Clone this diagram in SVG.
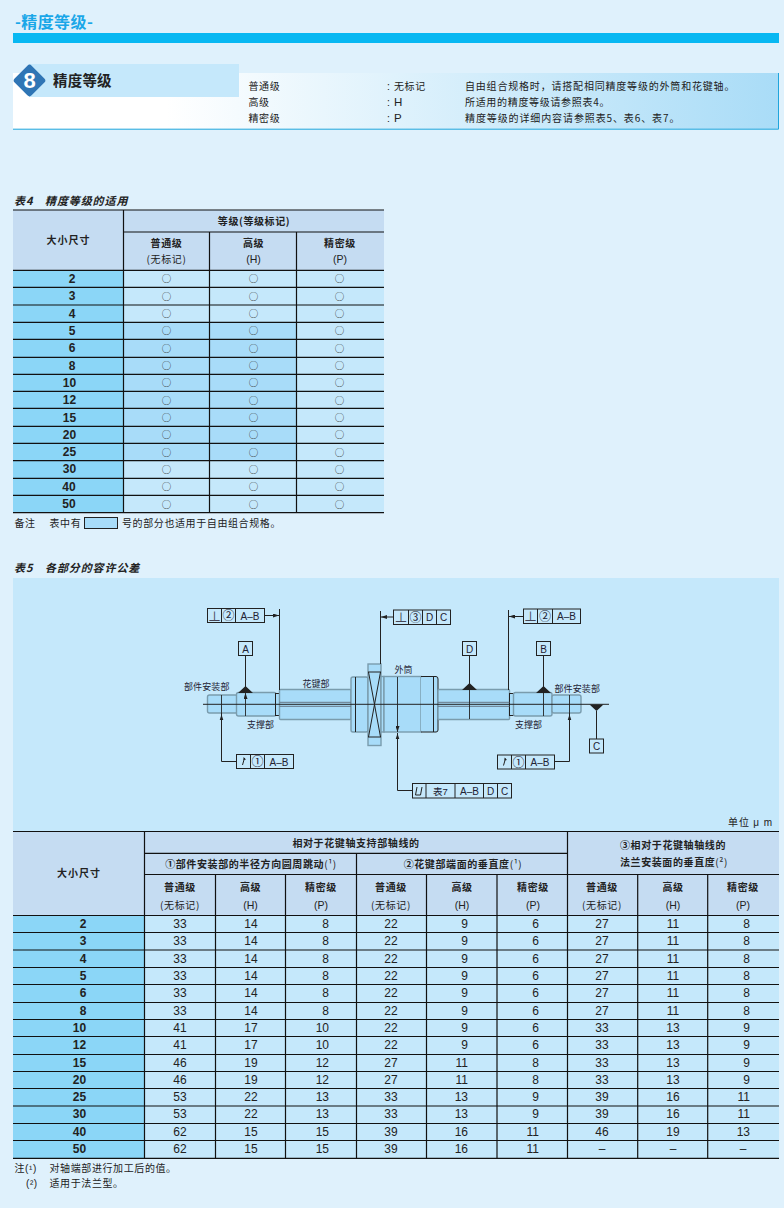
<svg xmlns="http://www.w3.org/2000/svg" width="784" height="1208" viewBox="0 0 784 1208">
<style>
text{font-family:"Liberation Sans","Noto Sans CJK SC",sans-serif;fill:#222;font-size:10.5px}
.c{font-family:"Noto Sans CJK SC",sans-serif;font-size:10px;letter-spacing:.6px}
.b{font-weight:700}
.m{text-anchor:middle}
.e{text-anchor:end}
.h{font-family:"Noto Sans CJK SC",sans-serif;font-weight:700;font-style:italic;font-size:11px;letter-spacing:.9px}
.n{font-size:12px}
.o{font-family:"Noto Sans CJK SC",sans-serif;font-size:9.5px;fill:#333;text-anchor:middle}
.d{font-family:"Noto Sans CJK SC",sans-serif;font-size:9px;fill:#223}
.g{font-size:10px;fill:#223;text-anchor:middle}
.p{font-size:13px;fill:#445;text-anchor:middle}
.q{font-family:"Noto Sans CJK SC",sans-serif;font-size:12px;fill:#223;text-anchor:middle}
.k{fill:none;stroke:#222;stroke-width:1}
.t{fill:none;stroke:#111;stroke-width:1.2}
.hd{fill:#c5dcf2}.sz{fill:#8bd6f7}.lt{fill:#c5e8fb}.dk{fill:#a8dcf9}
.s{fill:#a8dcf9;stroke:#7a9cad;stroke-width:1.4}
.bx{fill:none;stroke:#222;stroke-width:1}
.tr{fill:#222;stroke:none}
.ar{fill:none;stroke:#222;stroke-width:.9;marker-start:url(#ah);marker-end:url(#ah)}
</style>
<defs>
<linearGradient id="pg" x1="0" x2="1" y1="0" y2="0"><stop offset=".2" stop-color="#fff"/><stop offset="1" stop-color="#a9dcf7"/></linearGradient>
<marker id="ah" markerWidth="6" markerHeight="4" refX="6" refY="2" orient="auto-start-reverse" markerUnits="userSpaceOnUse"><path d="M0 0L6 2L0 4z" fill="#222"/></marker>
</defs>
<rect width="784" height="1208" fill="#dff1fc"/>
<g id="title">
<text x="15" y="28" style="font-family:'Noto Sans CJK SC',sans-serif;font-size:16px;font-weight:700;fill:#1aa7e8;letter-spacing:.4px">-精度等级-</text>
<rect x="13" y="33" width="766" height="10" fill="#08b8f2"/>
</g>
<g id="section-header">
<rect x="13" y="73" width="766" height="56" fill="url(#pg)"/>
<path d="M13 129.2H778.5V73" fill="none" stroke="#1fa5dc" stroke-width="1"/>
<rect x="29" y="64" width="210" height="33" fill="#c5e8fb"/>
<rect x="17.5" y="68.5" width="24" height="24" rx="3" transform="rotate(45 29.5 80.5)" fill="#2f75b5"/>
<text x="29.5" y="88" class="m b" style="font-size:22px;fill:#fff">8</text>
<text x="53" y="86" style="font-family:'Noto Sans CJK SC',sans-serif;font-size:14.5px;font-weight:700;letter-spacing:.2px">精度等级</text>
<text x="248.5" y="90" class="c">普通级</text><text x="248.5" y="106" class="c">高级</text><text x="248.5" y="122" class="c">精密级</text>
<text x="387" y="90">:</text><text x="387" y="106">:</text><text x="387" y="122">:</text>
<text x="394" y="90" class="c">无标记</text><text x="394" y="106" style="font-size:11.5px">H</text><text x="394" y="122" style="font-size:11.5px">P</text>
<text x="465" y="90" class="c" textLength="270">自由组合规格时&#xFF0C;请搭配相同精度等级的外筒和花键轴。</text>
<text x="465" y="106" class="c" textLength="145">所适用的精度等级请参照表4。</text>
<text x="465" y="122" class="c" textLength="215">精度等级的详细内容请参照表5、表6、表7。</text>
</g>
<g id="table4">
<text x="14" y="205" class="h">表4</text><text x="45" y="205" class="h">精度等级的适用</text>
<rect x="13" y="210" width="371" height="60" class="hd"/>
<rect x="13" y="270" width="110.500" height="243" class="sz"/>
<rect x="123.500" y="270" width="260.500" height="243" class="lt"/>
<rect x="123.500" y="322.300" width="173" height="138.400" class="dk"/>
<path class="t" d="M13 210H384M123.500 232H384M13 270.300H384M13 287.300H384M13 305H384M13 322.300H384M13 339.300H384M13 357.300H384M13 374.300H384M13 391.300H384M13 408.300H384M13 426.300H384M13 443.300H384M13 460.700H384M13 478.300H384M13 495.300H384M13 512.700H384M123.500 210V512.700M209.500 232V512.700M296.500 232V512.700"/>
<text x="254" y="225" class="c b m">等级(等级标记)</text>
<text x="68.500" y="244" class="c b m" style="letter-spacing:1px">大小尺寸</text>
<text x="166.500" y="247" class="c b m">普通级</text><text x="166.500" y="263" class="c m">(无标记)</text>
<text x="253.500" y="247" class="c b m">高级</text><text x="253.500" y="263" class="m">(H)</text>
<text x="340" y="247" class="c b m">精密级</text><text x="340" y="263" class="m">(P)</text>
<g class="n b m"><text x="72" y="283" class="n b m">2</text><text x="72" y="300" class="n b m">3</text><text x="72" y="318" class="n b m">4</text><text x="72" y="335" class="n b m">5</text><text x="72" y="352" class="n b m">6</text><text x="72" y="370" class="n b m">8</text><text x="69.500" y="387" class="n b m">10</text><text x="69.500" y="404" class="n b m">12</text><text x="69.500" y="422" class="n b m">15</text><text x="69.500" y="439" class="n b m">20</text><text x="69.500" y="456" class="n b m">25</text><text x="69.500" y="473" class="n b m">30</text><text x="69" y="491" class="n b m">40</text><text x="69" y="508" class="n b m">50</text></g>
<text x="166.500" y="282" class="o">○</text><text x="253.500" y="282" class="o">○</text><text x="339.500" y="282" class="o">○</text>
<text x="166.500" y="299.500" class="o">○</text><text x="253.500" y="299.500" class="o">○</text><text x="339.500" y="299.500" class="o">○</text>
<text x="166.500" y="317" class="o">○</text><text x="253.500" y="317" class="o">○</text><text x="339.500" y="317" class="o">○</text>
<text x="166.500" y="334" class="o">○</text><text x="253.500" y="334" class="o">○</text><text x="339.500" y="334" class="o">○</text>
<text x="166.500" y="351.500" class="o">○</text><text x="253.500" y="351.500" class="o">○</text><text x="339.500" y="351.500" class="o">○</text>
<text x="166.500" y="369" class="o">○</text><text x="253.500" y="369" class="o">○</text><text x="339.500" y="369" class="o">○</text>
<text x="166.500" y="386" class="o">○</text><text x="253.500" y="386" class="o">○</text><text x="339.500" y="386" class="o">○</text>
<text x="166.500" y="403.500" class="o">○</text><text x="253.500" y="403.500" class="o">○</text><text x="339.500" y="403.500" class="o">○</text>
<text x="166.500" y="421" class="o">○</text><text x="253.500" y="421" class="o">○</text><text x="339.500" y="421" class="o">○</text>
<text x="166.500" y="438" class="o">○</text><text x="253.500" y="438" class="o">○</text><text x="339.500" y="438" class="o">○</text>
<text x="166.500" y="455.500" class="o">○</text><text x="253.500" y="455.500" class="o">○</text><text x="339.500" y="455.500" class="o">○</text>
<text x="166.500" y="473" class="o">○</text><text x="253.500" y="473" class="o">○</text><text x="339.500" y="473" class="o">○</text>
<text x="166.500" y="490" class="o">○</text><text x="253.500" y="490" class="o">○</text><text x="339.500" y="490" class="o">○</text>
<text x="166.500" y="507.500" class="o">○</text><text x="253.500" y="507.500" class="o">○</text><text x="339.500" y="507.500" class="o">○</text>
<text x="14.500" y="527" class="c">备注</text><text x="49.500" y="527" class="c">表中有</text>
<rect x="84.500" y="517.500" width="33" height="11" class="dk" stroke="#222"/>
<text x="122" y="527" class="c">号的部分也适用于自由组合规格。</text>
</g>
<text x="14" y="572" class="h">表5</text><text x="45" y="572" class="h">各部分的容许公差</text>
<rect x="13" y="578" width="766" height="253" class="lt"/>
<g id="shaft">
<rect x="207.500" y="695" width="30" height="18" rx="2" class="s"/>
<rect x="236.500" y="692.500" width="39.500" height="23.500" rx="2" class="s"/>
<rect x="275.500" y="693.500" width="4" height="22" fill="#a8dcf9" stroke="#222"/>
<rect x="279.500" y="689.500" width="71.500" height="30" rx="1" class="s"/>
<rect x="351" y="677" width="17" height="55" rx="2" class="s"/>
<rect x="368" y="664" width="13" height="81.500" class="s"/>
<rect x="381" y="676.500" width="3" height="55.500" class="s"/>
<rect x="384" y="676.500" width="37" height="55.500" class="s"/>
<rect x="421" y="676.500" width="17" height="55.500" rx="2" fill="#a8dcf9"/>
<path d="M421 676.500H436Q438 676.500 438 679V730Q438 732 436 732H421" fill="none" stroke="#222"/>
<rect x="438" y="689.500" width="71.500" height="30" rx="1" class="s"/>
<rect x="509.500" y="693.500" width="4" height="22" fill="#a8dcf9" stroke="#222"/>
<rect x="513.500" y="692.500" width="38.500" height="23.500" rx="2" class="s"/>
<rect x="552" y="695" width="29" height="18" rx="2" class="s"/>
<path class="k" d="M355.500 677V732M433.500 677V732M368 672H381M368 737H381M368.500 672L380.500 737M380.500 672L368.500 737"/>
<path d="M279.500 702.300H351M279.500 706.300H351M438 702.300H509.500M438 706.300H509.500" stroke="#678" stroke-width="1" fill="none"/>
<path d="M203 704.300H609" stroke="#222" stroke-width="1"/>
<path class="tr" d="M238 693L245.500 686L253 693zM462 690L469.500 683L477 690zM536 693L543.500 686L551 693zM589.500 704.500H603.500L596.500 711z"/>
<text x="184" y="690" class="d" style="letter-spacing:.1px">部件安装部</text>
<text x="302.500" y="687" class="d">花键部</text>
<text x="247" y="728" class="d">支撑部</text>
<text x="394.500" y="673" class="d">外筒</text>
<text x="554.500" y="692" class="d" style="letter-spacing:.1px">部件安装部</text>
<text x="515" y="728" class="d">支撑部</text>
</g>
<g id="connectors">
<path class="k" d="M279.500 609V690M380.500 611V664M508.500 610V690M596.500 711V739M221.500 713V761.500H236.500M569.500 713V761.500H554.500M397.500 733V790.500H412.500"/>
<path class="k" stroke="#445" d="M245.500 655.500V688M469.500 655.500V685M543.500 655.500V688"/>
<path class="k" marker-end="url(#ah)" d="M264.500 615.500H279"/>
<path class="k" marker-end="url(#ah)" d="M393.500 617H381"/>
<path class="k" marker-end="url(#ah)" d="M523.500 616.500H509"/>
<path class="ar" d="M245.500 693V716M469.500 690V719M543.500 693V716M221.500 695V713M569.500 695V713M397.500 677V732"/>
<path class="tr" d="M221.500 714.500L223.300 720H219.700zM569.500 714.500L571.300 720H567.700zM397.500 733.500L399.300 739H395.700z"/>
</g>
<g id="fcf-perp-left"><rect x="207.500" y="608.500" width="57" height="14" class="bx"/><path class="k" d="M221.500 608.500V622.500M235.500 608.500V622.500"/><text x="214.500" y="620.500" class="p">⊥</text><text x="228.500" y="620" class="q">②</text><text x="250" y="619.500" class="g">A–B</text></g>
<g id="fcf-perp-center"><rect x="393.500" y="610" width="57" height="14.500" class="bx"/><path class="k" d="M408.500 610V624.500M422.500 610V624.500M436.500 610V624.500"/><text x="401" y="622" class="p">⊥</text><text x="415.500" y="621.500" class="q">③</text><text x="429.500" y="621" class="g">D</text><text x="443.500" y="621" class="g">C</text></g>
<g id="fcf-perp-right"><rect x="523.500" y="609" width="57" height="14.500" class="bx"/><path class="k" d="M537.500 609V623.500M552.500 609V623.500"/><text x="530.500" y="621" class="p">⊥</text><text x="545" y="620.500" class="q">②</text><text x="566.500" y="620" class="g">A–B</text></g>
<g id="box-a"><rect x="238.500" y="641.500" width="14" height="14" class="bx"/><text x="245.500" y="652.500" class="g">A</text></g>
<g id="box-d"><rect x="462.500" y="641.500" width="14" height="14" class="bx"/><text x="469.500" y="652.500" class="g">D</text></g>
<g id="box-b"><rect x="536.500" y="641.500" width="14" height="14" class="bx"/><text x="543.500" y="652.500" class="g">B</text></g>
<g id="box-c"><rect x="589.500" y="739" width="14" height="14" class="bx"/><text x="596.500" y="750" class="g">C</text></g>
<g id="fcf-runout-left"><rect x="236.500" y="754.500" width="57" height="14" class="bx"/><path class="k" d="M250.500 754.500V768.500M264.500 754.500V768.500M242.500 765L244.500 758"/><path class="tr" d="M243.500 757L246 759.500L243.500 760z"/><text x="257.500" y="766" class="q">①</text><text x="279" y="765.500" class="g">A–B</text></g>
<g id="fcf-runout-right"><rect x="497.500" y="755" width="57" height="14" class="bx"/><path class="k" d="M511.500 755V769M525.500 755V769M503.500 765.500L505.500 758.500"/><path class="tr" d="M504.500 757.500L507 760L504.500 760.500z"/><text x="518.500" y="766.500" class="q">①</text><text x="540" y="766" class="g">A–B</text></g>
<g id="fcf-total-runout"><rect x="412.500" y="783.500" width="99" height="14.500" class="bx"/><path class="k" d="M426 783.500V798M455 783.500V798M483.500 783.500V798M497.500 783.500V798M415.500 795L417 787M420.500 795L422 787M415.500 795H420.500"/><text x="440.500" y="794.500" class="g" style="font-size:9.500px">表7</text><text x="469.500" y="794.500" class="g">A–B</text><text x="490.500" y="794.500" class="g">D</text><text x="504.500" y="794.500" class="g">C</text></g>
<text x="728" y="826" class="c" style="letter-spacing:1px">单位 <tspan style="font-family:'Liberation Sans'">μ m</tspan></text>
<g id="table5">
<rect x="13" y="831.500" width="766" height="84" class="hd"/>
<rect x="13" y="915.500" width="131.500" height="243" class="sz"/>
<rect x="144.500" y="915.500" width="634.500" height="243" class="lt"/>
<path class="t" d="M13 831.500H779M144.500 853.300H567.500M144.500 874.500H779M13 915.500H779M13 932.500H779M13 950H779M13 967.500H779M13 984.500H779M13 1002.500H779M13 1019.500H779M13 1036.500H779M13 1054.500H779M13 1071.500H779M13 1088.500H779M13 1106H779M13 1123.500H779M13 1140.500H779M13 1158.300H779M144.500 831.500V1158.300M215.500 874.500V1158.300M285.500 874.500V1158.300M356.500 853.300V1158.300M426.500 874.500V1158.300M497 874.500V1158.300M567.500 831.500V1158.300M637.700 874.500V1158.300M707.700 874.500V1158.300"/>
<text x="356" y="847" class="c b m">相对于花键轴支持部轴线的</text>
<text x="251" y="868" class="c b m">①部件安装部的半径方向圆周跳动<tspan style="font-weight:400">(¹)</tspan></text>
<text x="463" y="868" class="c b m">②花键部端面的垂直度<tspan style="font-weight:400">(¹)</tspan></text>
<text x="673" y="849" class="c b m">③相对于花键轴轴线的</text>
<text x="674" y="866" class="c b m">法兰安装面的垂直度<tspan style="font-weight:400">(²)</tspan></text>
<text x="79" y="877" class="c b m" style="letter-spacing:1px">大小尺寸</text>
<text x="180" y="891" class="c b m">普通级</text><text x="180" y="909" class="c m">(无标记)</text><text x="250.500" y="891" class="c b m">高级</text><text x="250.500" y="909" class="m">(H)</text><text x="321" y="891" class="c b m">精密级</text><text x="321" y="909" class="m">(P)</text>
<text x="391" y="891" class="c b m">普通级</text><text x="391" y="909" class="c m">(无标记)</text><text x="462" y="891" class="c b m">高级</text><text x="462" y="909" class="m">(H)</text><text x="533" y="891" class="c b m">精密级</text><text x="533" y="909" class="m">(P)</text>
<text x="602" y="891" class="c b m">普通级</text><text x="602" y="909" class="c m">(无标记)</text><text x="673" y="891" class="c b m">高级</text><text x="673" y="909" class="m">(H)</text><text x="743" y="891" class="c b m">精密级</text><text x="743" y="909" class="m">(P)</text>
<g id="t5-sizes"><text x="83" y="928" class="n b m">2</text><text x="83" y="945" class="n b m">3</text><text x="83" y="963" class="n b m">4</text><text x="83" y="980" class="n b m">5</text><text x="83" y="997" class="n b m">6</text><text x="83" y="1015" class="n b m">8</text><text x="79.500" y="1032" class="n b m">10</text><text x="79.500" y="1049" class="n b m">12</text><text x="79.500" y="1067" class="n b m">15</text><text x="79.500" y="1084" class="n b m">20</text><text x="79.500" y="1101" class="n b m">25</text><text x="79.500" y="1118" class="n b m">30</text><text x="79.500" y="1136" class="n b m">40</text><text x="79.500" y="1153" class="n b m">50</text></g>
<g id="t5-col1"><text x="180" y="928" class="n m">33</text><text x="180" y="945" class="n m">33</text><text x="180" y="963" class="n m">33</text><text x="180" y="980" class="n m">33</text><text x="180" y="997" class="n m">33</text><text x="180" y="1015" class="n m">33</text><text x="180" y="1032" class="n m">41</text><text x="180" y="1049" class="n m">41</text><text x="180" y="1067" class="n m">46</text><text x="180" y="1084" class="n m">46</text><text x="180" y="1101" class="n m">53</text><text x="180" y="1118" class="n m">53</text><text x="180" y="1136" class="n m">62</text><text x="180" y="1153" class="n m">62</text></g>
<g id="t5-col2"><text x="251" y="928" class="n m">14</text><text x="251" y="945" class="n m">14</text><text x="251" y="963" class="n m">14</text><text x="251" y="980" class="n m">14</text><text x="251" y="997" class="n m">14</text><text x="251" y="1015" class="n m">14</text><text x="251" y="1032" class="n m">17</text><text x="251" y="1049" class="n m">17</text><text x="251" y="1067" class="n m">19</text><text x="251" y="1084" class="n m">19</text><text x="251" y="1101" class="n m">22</text><text x="251" y="1118" class="n m">22</text><text x="251" y="1136" class="n m">15</text><text x="251" y="1153" class="n m">15</text></g>
<g id="t5-col3"><text x="329" y="928" class="n e">8</text><text x="329" y="945" class="n e">8</text><text x="329" y="963" class="n e">8</text><text x="329" y="980" class="n e">8</text><text x="329" y="997" class="n e">8</text><text x="329" y="1015" class="n e">8</text><text x="329" y="1032" class="n e">10</text><text x="329" y="1049" class="n e">10</text><text x="329" y="1067" class="n e">12</text><text x="329" y="1084" class="n e">12</text><text x="329" y="1101" class="n e">13</text><text x="329" y="1118" class="n e">13</text><text x="329" y="1136" class="n e">15</text><text x="329" y="1153" class="n e">15</text></g>
<g id="t5-col4"><text x="391" y="928" class="n m">22</text><text x="391" y="945" class="n m">22</text><text x="391" y="963" class="n m">22</text><text x="391" y="980" class="n m">22</text><text x="391" y="997" class="n m">22</text><text x="391" y="1015" class="n m">22</text><text x="391" y="1032" class="n m">22</text><text x="391" y="1049" class="n m">22</text><text x="391" y="1067" class="n m">27</text><text x="391" y="1084" class="n m">27</text><text x="391" y="1101" class="n m">33</text><text x="391" y="1118" class="n m">33</text><text x="391" y="1136" class="n m">39</text><text x="391" y="1153" class="n m">39</text></g>
<g id="t5-col5"><text x="468" y="928" class="n e">9</text><text x="468" y="945" class="n e">9</text><text x="468" y="963" class="n e">9</text><text x="468" y="980" class="n e">9</text><text x="468" y="997" class="n e">9</text><text x="468" y="1015" class="n e">9</text><text x="468" y="1032" class="n e">9</text><text x="468" y="1049" class="n e">9</text><text x="468" y="1067" class="n e">11</text><text x="468" y="1084" class="n e">11</text><text x="468" y="1101" class="n e">13</text><text x="468" y="1118" class="n e">13</text><text x="468" y="1136" class="n e">16</text><text x="468" y="1153" class="n e">16</text></g>
<g id="t5-col6"><text x="539" y="928" class="n e">6</text><text x="539" y="945" class="n e">6</text><text x="539" y="963" class="n e">6</text><text x="539" y="980" class="n e">6</text><text x="539" y="997" class="n e">6</text><text x="539" y="1015" class="n e">6</text><text x="539" y="1032" class="n e">6</text><text x="539" y="1049" class="n e">6</text><text x="539" y="1067" class="n e">8</text><text x="539" y="1084" class="n e">8</text><text x="539" y="1101" class="n e">9</text><text x="539" y="1118" class="n e">9</text><text x="539" y="1136" class="n e">11</text><text x="539" y="1153" class="n e">11</text></g>
<g id="t5-col7"><text x="602" y="928" class="n m">27</text><text x="602" y="945" class="n m">27</text><text x="602" y="963" class="n m">27</text><text x="602" y="980" class="n m">27</text><text x="602" y="997" class="n m">27</text><text x="602" y="1015" class="n m">27</text><text x="602" y="1032" class="n m">33</text><text x="602" y="1049" class="n m">33</text><text x="602" y="1067" class="n m">33</text><text x="602" y="1084" class="n m">33</text><text x="602" y="1101" class="n m">39</text><text x="602" y="1118" class="n m">39</text><text x="602" y="1136" class="n m">46</text><text x="602" y="1153" class="n m">–</text></g>
<g id="t5-col8"><text x="673" y="928" class="n m">11</text><text x="673" y="945" class="n m">11</text><text x="673" y="963" class="n m">11</text><text x="673" y="980" class="n m">11</text><text x="673" y="997" class="n m">11</text><text x="673" y="1015" class="n m">11</text><text x="673" y="1032" class="n m">13</text><text x="673" y="1049" class="n m">13</text><text x="673" y="1067" class="n m">13</text><text x="673" y="1084" class="n m">13</text><text x="673" y="1101" class="n m">16</text><text x="673" y="1118" class="n m">16</text><text x="673" y="1136" class="n m">19</text><text x="673" y="1153" class="n m">–</text></g>
<g id="t5-col9"><text x="750" y="928" class="n e">8</text><text x="750" y="945" class="n e">8</text><text x="750" y="963" class="n e">8</text><text x="750" y="980" class="n e">8</text><text x="750" y="997" class="n e">8</text><text x="750" y="1015" class="n e">8</text><text x="750" y="1032" class="n e">9</text><text x="750" y="1049" class="n e">9</text><text x="750" y="1067" class="n e">9</text><text x="750" y="1084" class="n e">9</text><text x="750" y="1101" class="n e">11</text><text x="750" y="1118" class="n e">11</text><text x="750" y="1136" class="n e">13</text><text x="743" y="1153" class="n m">–</text></g>
<text x="14.500" y="1172" class="c">注<tspan style="font-family:'Liberation Sans'">(¹)</tspan></text><text x="49.500" y="1172" class="c">对轴端部进行加工后的值。</text>
<text x="26" y="1187" class="c" style="font-family:'Liberation Sans'">(²)</text><text x="49.500" y="1187" class="c">适用于法兰型。</text>
</g>
</svg>
